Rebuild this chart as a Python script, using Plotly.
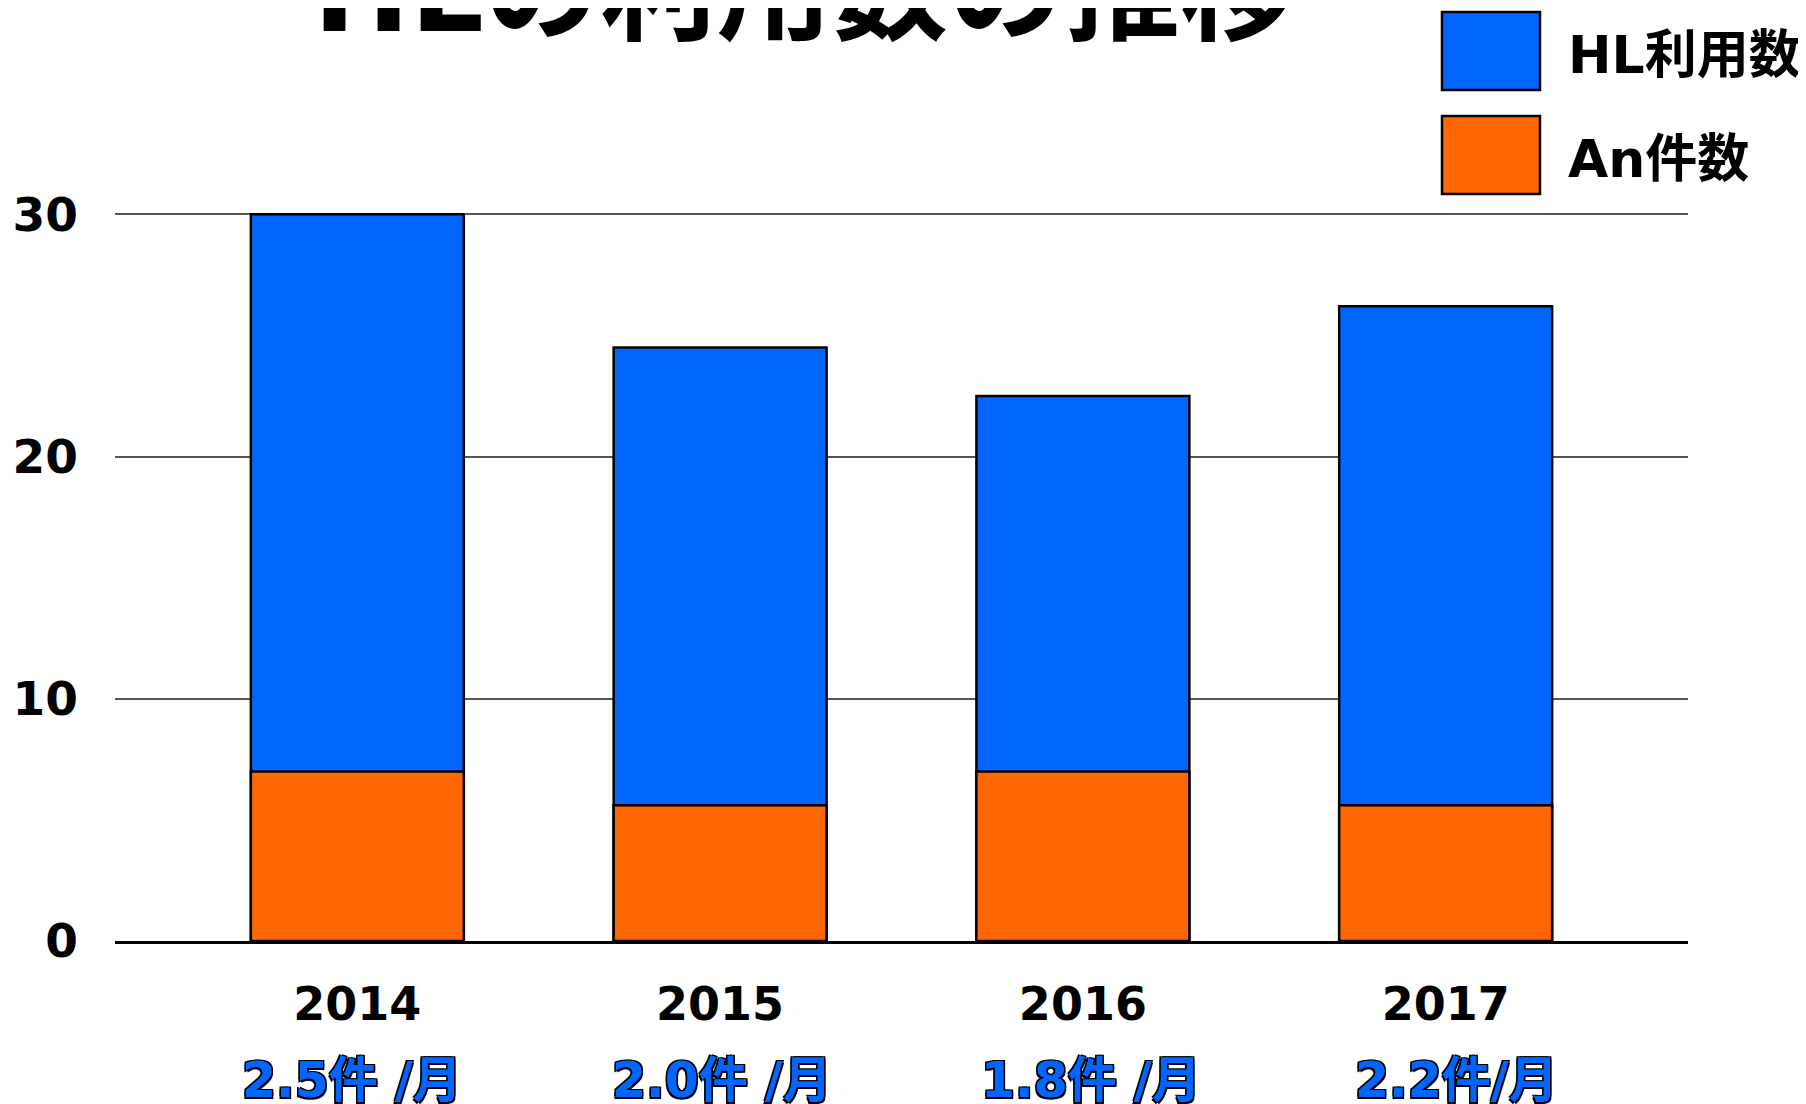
import plotly.graph_objects as go

# ---- data ----
years = ["2014", "2015", "2016", "2017"]
hl_usage = [30, 24.5, 22.5, 26.2]          # HL利用数
an_count = [7, 5.6, 7, 5.6]                 # An件数
monthly_labels = ["2.5件 /月", "2.0件 /月", "1.8件 /月", "2.2件/月"]
series_names = ["HL利用数", "An件数"]
title_text = "HLの利用数の推移"
y_ticks = [0, 10, 20, 30]

# ---- styling / layout constants ----
OFF = 8                      # page body margin
W, H = 1806 - OFF, 1104 - OFF
ML, MR, MT, MB = 107, 118, 199, 163
BLUE = "#0066FF"
ORANGE = "#FF6600"
FONT = "DejaVu Sans, Noto Sans CJK JP, sans-serif"
RATE_LABEL_NUDGE = [-5, 2, 8, 11]   # small horizontal nudges (px) of the rate labels


def px_x(sx):
    """screen x -> paper x"""
    return (sx - OFF - ML) / (W - ML - MR)


def px_y(sy):
    """screen y -> paper y"""
    return (H - MB - (sy - OFF)) / (H - MT - MB)


fig = go.Figure()
fig.add_trace(go.Bar(
    x=years, y=hl_usage, name=series_names[0],
    marker=dict(color=BLUE, line=dict(color="black", width=2.5)),
    width=0.587,
))
fig.add_trace(go.Bar(
    x=years, y=an_count, name=series_names[1],
    marker=dict(color=ORANGE, line=dict(color="black", width=2.5)),
    width=0.587,
))

annotations = []
# title (cut off at top like the reference)
annotations.append(dict(
    text=title_text, xref="paper", yref="paper",
    x=px_x(804), y=px_y(-10), xanchor="center", yanchor="middle",
    showarrow=False,
    font=dict(family=FONT, size=116, color="black", weight=700),
))
# monthly rate labels under the years
for i, lab in enumerate(monthly_labels):
    annotations.append(dict(
        text=lab, xref="x", yref="paper", x=i, y=px_y(1080),
        xanchor="center", yanchor="middle", showarrow=False,
        xshift=RATE_LABEL_NUDGE[i],
        font=dict(family=FONT, size=49, color=BLUE, weight=700,
                  shadow="-1.5px -1.5px 0 #000, 1.5px -1.5px 0 #000, -1.5px 1.5px 0 #000, 1.5px 1.5px 0 #000"),
    ))

# custom legend (large swatches)
shapes = []
legend_rows = [(series_names[0], BLUE, 12, 90), (series_names[1], ORANGE, 116, 194)]
for name, col, top, bot in legend_rows:
    shapes.append(dict(
        type="rect", xref="paper", yref="paper",
        x0=px_x(1442), x1=px_x(1540), y0=px_y(bot), y1=px_y(top),
        fillcolor=col, line=dict(color="black", width=2.5),
    ))
    annotations.append(dict(
        text=name, xref="paper", yref="paper",
        x=px_x(1566), y=px_y((top + bot) / 2 + 4), xanchor="left", yanchor="middle",
        showarrow=False,
        font=dict(family=FONT, size=52, color="black", weight=700),
    ))

fig.update_layout(
    width=W, height=H,
    margin=dict(l=ML, r=MR, t=MT, b=MB, pad=0, autoexpand=False),
    barmode="overlay",
    showlegend=False,
    plot_bgcolor="white", paper_bgcolor="white",
    annotations=annotations, shapes=shapes,
    xaxis=dict(
        type="category", range=[-0.668, 3.668], automargin=False,
        showgrid=False, zeroline=False,
        showline=True, linecolor="black", linewidth=3,
        ticks="", ticklabelstandoff=21,
        tickfont=dict(family=FONT, size=46, color="black", weight=700),
    ),
    yaxis=dict(
        range=[0, 30.3], tickvals=y_ticks, automargin=False,
        showgrid=True, gridcolor="#555555", gridwidth=1.5,
        zeroline=False, showline=False,
        ticks="", ticklabelstandoff=36,
        tickfont=dict(family=FONT, size=47, color="black", weight=700),
    ),
)

fig.write_html("out.html")
